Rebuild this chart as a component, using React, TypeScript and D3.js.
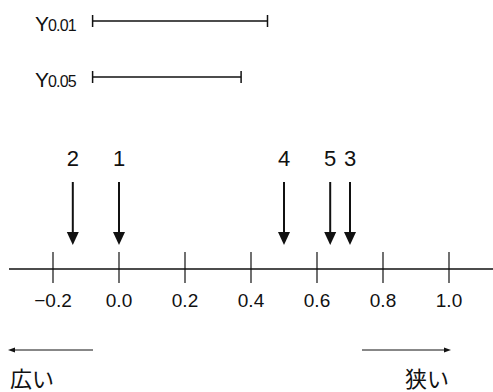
import React from "react";
import * as d3 from "d3";

// values
const treatments = ["1", "2", "3", "4", "5"];
const positions = [0.0, -0.14, 0.7, 0.5, 0.64];
const rangeLabels = ["0.01", "0.05"];
const rangeLengths = [0.53, 0.45];
const rangeStart = -0.08;
const tickValues = [-0.2, 0.0, 0.2, 0.4, 0.6, 0.8, 1.0];
const leftWord = "広い";
const rightWord = "狭い";

const W = 493;
const H = 392;
const FONT = "'Liberation Sans', Arial, sans-serif";
const CJK = "'Noto Sans CJK JP', sans-serif";

export default function App() {
  const x = d3.scaleLinear().domain([-0.2, 1.0]).range([53, 449]);
  const axisY = 269;
  const fmt = d3.format(".1f");
  const rangeY = d3.scalePoint<string>().domain(rangeLabels).range([21, 77]);

  return (
    <svg width={W} height={H} style={{ position: "absolute", left: 0, top: 0, background: "#fff" }}>
      {/* least significant ranges */}
      {rangeLabels.map((lab, i) => {
        const y = rangeY(lab)!;
        const x0 = x(rangeStart);
        const x1 = x(rangeStart + rangeLengths[i]);
        return (
          <g key={lab}>
            <text x={35} y={y + 10} fontFamily={FONT} fill="#111">
              <tspan fontSize={21}>Y</tspan>
              <tspan fontSize={16} dx={-1} letterSpacing={-0.8}>{lab}</tspan>
            </text>
            <line x1={x0} x2={x1} y1={y} y2={y} stroke="#111" strokeWidth={1.6} />
            <line x1={x0} x2={x0} y1={y - 6} y2={y + 6} stroke="#111" strokeWidth={1.5} />
            <line x1={x1} x2={x1} y1={y - 6} y2={y + 6} stroke="#111" strokeWidth={1.5} />
          </g>
        );
      })}

      {/* treatment arrows */}
      {treatments.map((t, i) => {
        const px = x(positions[i]);
        return (
          <g key={t}>
            <text x={px} y={166} textAnchor="middle" fontFamily={FONT} fontSize={22} fill="#111">
              {t}
            </text>
            <line x1={px} x2={px} y1={182} y2={236} stroke="#111" strokeWidth={2} />
            <path d={`M${px - 6},${232} L${px + 6},${232} L${px},${245} Z`} fill="#111" />
          </g>
        );
      })}

      {/* axis */}
      <line x1={9} x2={W} y1={axisY} y2={axisY} stroke="#111" strokeWidth={1.4} />
      {tickValues.map((v) => (
        <g key={v} transform={`translate(${x(v)},0)`}>
          <line y1={axisY - 17} y2={axisY + 14} stroke="#111" strokeWidth={1.2} />
          <text y={307} textAnchor="middle" fontFamily={FONT} fontSize={19} fill="#111">
            {fmt(v)}
          </text>
        </g>
      ))}

      {/* direction arrows */}
      <line x1={11} x2={93} y1={350} y2={350} stroke="#111" strokeWidth={1} />
      <path d="M8,350 L15,347.5 L15,352.5 Z" fill="#111" />
      <line x1={362} x2={448} y1={350} y2={350} stroke="#111" strokeWidth={1} />
      <path d="M451,350 L444,347.5 L444,352.5 Z" fill="#111" />
      <text x={10} y={387} fontFamily={CJK} fontSize={22} fill="#111">{leftWord}</text>
      <text x={405} y={387} fontFamily={CJK} fontSize={22} fill="#111">{rightWord}</text>
    </svg>
  );
}
